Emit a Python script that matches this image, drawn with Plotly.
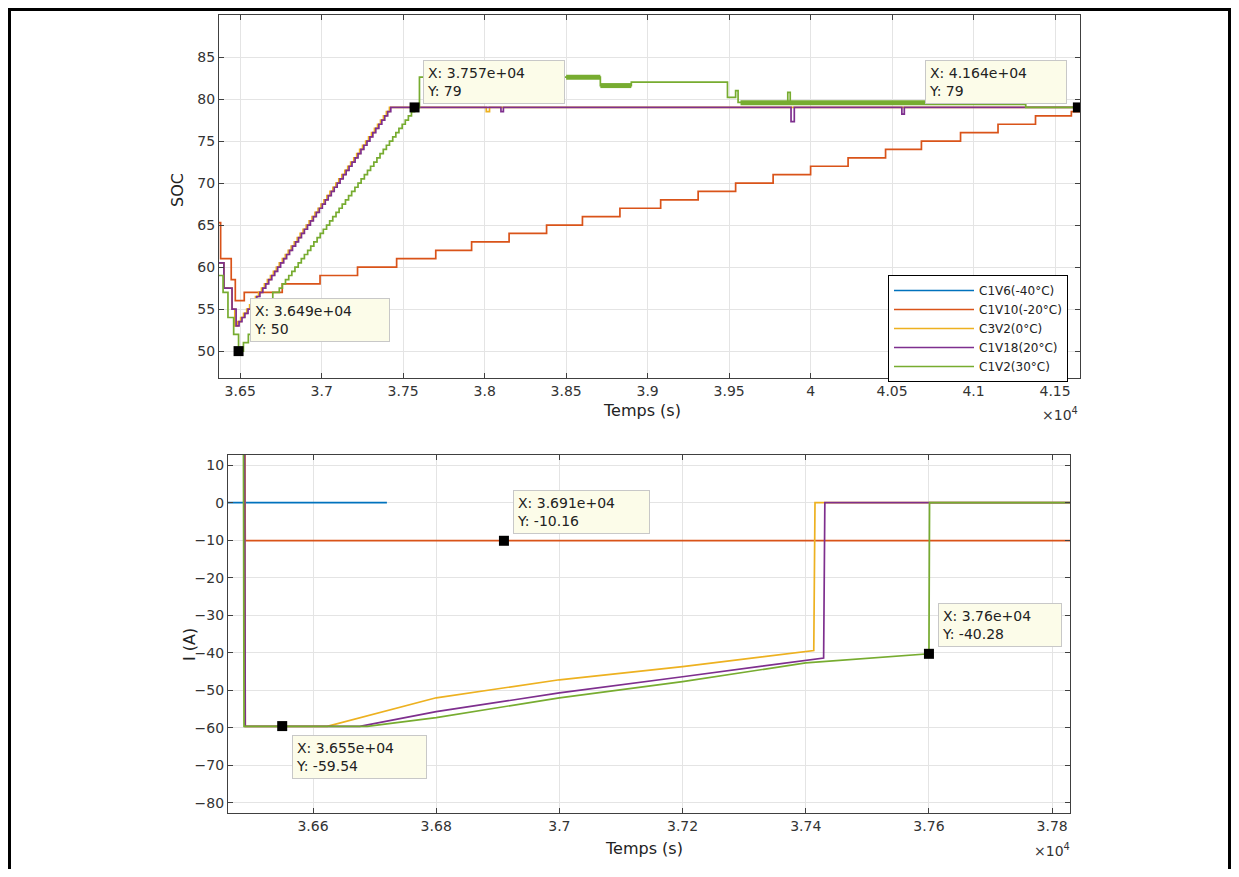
import plotly.graph_objects as go

# ---------------- data ----------------
series_names = ["C1V6(-40°C)", "C1V10(-20°C)", "C3V2(0°C)", "C1V18(20°C)", "C1V2(30°C)"]
series_colors = ["#0072BD", "#D95319", "#EDB120", "#7E2F8E", "#77AC30"]

# SOC (top panel), staircase values (hv)
soc_blue_t = [36370, 36400, 36430]
soc_blue_v = [60.5, 57.5, 57.5]

soc_orange_t = [36370, 36380, 36445, 36470, 36525, 36758, 36990, 37220, 37460, 37700, 37920,
                38150, 38380, 38600, 38830, 39080, 39310, 39540, 39770, 40000, 40230, 40460,
                40680, 40920, 41150, 41380, 41600, 41653]
soc_orange_v = [65.3, 61, 58.5, 56, 57, 58, 59, 60, 61, 62, 63,
                64, 65, 66, 67, 68, 69, 70, 71, 72, 73, 74,
                75, 76, 77, 78, 78.5, 78.5]

soc_yellow_t = [36370, 36400, 36450, 36467, 36485, 36503, 36521, 36540, 36558, 36576, 36594,
                36613, 36631, 36649, 36667, 36686, 36704, 36722, 36740, 36759, 36777, 36795,
                36813, 36832, 36850, 36868, 36886, 36905, 36923, 36941, 36959, 36978, 36996,
                37014, 37032, 37051, 37069, 37087, 37105, 37124, 37142, 37160, 37178, 37197,
                37215, 37233, 37251, 37270, 37288, 37306, 37324, 37343, 37361, 37379, 37397,
                37416, 38010, 38030, 41653]
soc_yellow_v = [60.5, 57.5, 55, 53, 53.5, 54, 54.5, 55, 55.5, 56, 56.5,
                57, 57.5, 58, 58.5, 59, 59.5, 60, 60.5, 61, 61.5, 62,
                62.5, 63, 63.5, 64, 64.5, 65, 65.5, 66, 66.5, 67, 67.5,
                68, 68.5, 69, 69.5, 70, 70.5, 71, 71.5, 72, 72.5, 73,
                73.5, 74, 74.5, 75, 75.5, 76, 76.5, 77, 77.5, 78, 78.5,
                79, 78.5, 79, 79]

soc_purple_t = [36370, 36400, 36450, 36475, 36493, 36511, 36529, 36548, 36566, 36584, 36602,
                36621, 36639, 36657, 36675, 36694, 36712, 36730, 36748, 36767, 36785, 36803,
                36821, 36840, 36858, 36876, 36894, 36913, 36931, 36949, 36967, 36986, 37004,
                37022, 37040, 37059, 37077, 37095, 37113, 37132, 37150, 37168, 37186, 37205,
                37223, 37241, 37259, 37278, 37296, 37314, 37332, 37351, 37369, 37387, 37405,
                37424, 38100, 38115, 39880, 39900, 40560, 40575, 41653]
soc_purple_v = [60.5, 57.5, 55, 53, 53.5, 54, 54.5, 55, 55.5, 56, 56.5,
                57, 57.5, 58, 58.5, 59, 59.5, 60, 60.5, 61, 61.5, 62,
                62.5, 63, 63.5, 64, 64.5, 65, 65.5, 66, 66.5, 67, 67.5,
                68, 68.5, 69, 69.5, 70, 70.5, 71, 71.5, 72, 72.5, 73,
                73.5, 74, 74.5, 75, 75.5, 76, 76.5, 77, 77.5, 78, 78.5,
                79, 78.5, 79, 77.3, 79, 78.2, 79, 79]

soc_green_t = [36370, 36395, 36425, 36460, 36490, 36520, 36550, 36580, 36610, 36640, 36670,
               36700, 36740, 36759, 36778, 36798, 36817, 36836, 36856, 36875, 36894, 36914,
               36933, 36952, 36972, 36991, 37010, 37030, 37049, 37068, 37088, 37107, 37126,
               37146, 37165, 37184, 37204, 37223, 37242, 37262, 37281, 37300, 37320, 37339,
               37358, 37378, 37397, 37416, 37436, 37455, 37474, 37494, 37513, 37532, 37551,
               37570, 37600, 38710, 38900, 39490, 39540, 39555, 39860, 39875, 41320, 41653]
soc_green_v = [59, 57, 54, 52, 50, 51, 52, 53, 54, 55, 56,
               57, 57.5, 58, 58.5, 59, 59.5, 60, 60.5, 61, 61.5, 62,
               62.5, 63, 63.5, 64, 64.5, 65, 65.5, 66, 66.5, 67, 67.5,
               68, 68.5, 69, 69.5, 70, 70.5, 71, 71.5, 72, 72.5, 73,
               73.5, 74, 74.5, 75, 75.5, 76, 76.5, 77, 77.5, 78, 78.5,
               79, 82.6, 81.6, 82.0, 80.2, 81, 79.6, 80.8, 79.6, 79, 79]
# noisy (thick) parts of the green SOC record
soc_green_noise_t = [38500, 38710, None, 38710, 38900, None, 39570, 41320]
soc_green_noise_v = [82.6, 82.6, None, 81.6, 81.6, None, 79.55, 79.55]

# Current (bottom panel)
cur_blue_t = [36462, 36720]
cur_blue_v = [0, 0]
cur_orange_t = [36462, 36489, 36490, 37829]
cur_orange_v = [20, 20, -10.1, -10.1]
cur_yellow_t = [36462, 36489, 36490, 36623, 36800, 37000, 37200, 37413, 37415, 37829]
cur_yellow_v = [20, 20, -59.6, -59.6, -52, -47.2, -43.7, -39.4, 0, 0]
cur_purple_t = [36462, 36489, 36490, 36676, 36800, 37000, 37200, 37429, 37431, 37829]
cur_purple_v = [20, 20, -59.6, -59.6, -55.7, -50.7, -46.4, -41.4, 0, 0]
cur_green_t = [36462, 36487, 36488, 36688, 36800, 37000, 37200, 37400, 37600, 37601, 37829]
cur_green_v = [20, 20, -59.6, -59.6, -57.3, -52, -47.7, -42.7, -40.28, 0, 0]

# data tips
tip_soc_x = [36490, 37570, 41640]
tip_soc_y = [50, 79, 79]
tip_soc_text = ["X: 3.649e+04<br>Y: 50", "X: 3.757e+04<br>Y: 79", "X: 4.164e+04<br>Y: 79"]
tip_cur_x = [36550, 36910, 37600]
tip_cur_y = [-59.54, -10.16, -40.28]
tip_cur_text = ["X: 3.655e+04<br>Y: -59.54", "X: 3.691e+04<br>Y: -10.16", "X: 3.76e+04<br>Y: -40.28"]

# ticks
soc_xtick_vals = [36500, 37000, 37500, 38000, 38500, 39000, 39500, 40000, 40500, 41000, 41500]
soc_xtick_text = ["3.65", "3.7", "3.75", "3.8", "3.85", "3.9", "3.95", "4", "4.05", "4.1", "4.15"]
soc_ytick_vals = [50, 55, 60, 65, 70, 75, 80, 85]
cur_xtick_vals = [36600, 36800, 37000, 37200, 37400, 37600, 37800]
cur_xtick_text = ["3.66", "3.68", "3.7", "3.72", "3.74", "3.76", "3.78"]
cur_ytick_vals = [-80, -70, -60, -50, -40, -30, -20, -10, 0, 10]

# ---------------- layout helpers ----------------
W, H, OFF = 1223, 861, 8
def fx(p):
    return (p - OFF) / W
def fy(p):
    return 1 - (p - OFF) / H

FONT = "DejaVu Sans"
LW = 1.7

fig = go.Figure()

soc_series = [(soc_blue_t, soc_blue_v), (soc_orange_t, soc_orange_v), (soc_yellow_t, soc_yellow_v),
              (soc_purple_t, soc_purple_v), (soc_green_t, soc_green_v)]
for (t, v), name, col in zip(soc_series, series_names, series_colors):
    fig.add_trace(go.Scatter(x=t, y=v, mode="lines", name=name, line=dict(color=col, width=LW, shape="hv"),
                             xaxis="x", yaxis="y", legendgroup=name))
fig.add_trace(go.Scatter(x=soc_green_noise_t, y=soc_green_noise_v, mode="lines", showlegend=False,
                         line=dict(color=series_colors[4], width=5), xaxis="x", yaxis="y",
                         legendgroup=series_names[4]))

cur_series = [(cur_blue_t, cur_blue_v), (cur_orange_t, cur_orange_v), (cur_yellow_t, cur_yellow_v),
              (cur_purple_t, cur_purple_v), (cur_green_t, cur_green_v)]
for (t, v), name, col in zip(cur_series, series_names, series_colors):
    fig.add_trace(go.Scatter(x=t, y=v, mode="lines", name=name, showlegend=False,
                             line=dict(color=col, width=LW), xaxis="x2", yaxis="y2", legendgroup=name))

fig.add_trace(go.Scatter(x=tip_soc_x, y=tip_soc_y, mode="markers", showlegend=False,
                         marker=dict(symbol="square", size=10, color="black"), xaxis="x", yaxis="y"))
fig.add_trace(go.Scatter(x=tip_cur_x, y=tip_cur_y, mode="markers", showlegend=False,
                         marker=dict(symbol="square", size=10, color="black"), xaxis="x2", yaxis="y2"))

axis_common = dict(showgrid=True, gridcolor="#e4e4e4", gridwidth=1, showline=True, linecolor="#404040",
                   linewidth=1.2, mirror="ticks", ticks="inside", ticklen=5, tickcolor="#404040",
                   zeroline=False, tickfont=dict(family=FONT, size=14, color="#333333"))

fig.update_layout(
    width=W, height=H, margin=dict(l=0, r=0, t=0, b=0),
    paper_bgcolor="white", plot_bgcolor="white",
    xaxis=dict(domain=[fx(219), fx(1080)], range=[36370, 41653], anchor="y",
               tickvals=soc_xtick_vals, ticktext=soc_xtick_text, **axis_common),
    yaxis=dict(domain=[fy(378), fy(15)], range=[46.8, 90], anchor="x",
               tickvals=soc_ytick_vals, **axis_common),
    xaxis2=dict(domain=[fx(228), fx(1070)], range=[36462, 37829], anchor="y2",
                tickvals=cur_xtick_vals, ticktext=cur_xtick_text, **axis_common),
    yaxis2=dict(domain=[fy(813), fy(455)], range=[-82.7, 12.7], anchor="x2",
                tickvals=cur_ytick_vals, **axis_common),
    legend=dict(x=fx(1068), y=fy(275), xanchor="right", yanchor="top", bgcolor="white",
                bordercolor="black", borderwidth=1, font=dict(family=FONT, size=12, color="#222"),
                itemwidth=80, tracegroupgap=0),
    showlegend=True,
)

# data-tip boxes: (left px, top px, width px) on the page
tip_boxes = [(250, 298, 140), (423, 60, 142), (925, 60, 142),
             (292, 735, 135), (513, 490, 137), (938, 603, 124)]
for (bx, by, bw), txt in zip(tip_boxes, tip_soc_text + tip_cur_text):
    fig.add_annotation(x=fx(bx), y=fy(by), xref="paper", yref="paper", xanchor="left", yanchor="top",
                       text=txt, showarrow=False, align="left", valign="middle",
                       width=bw - 8, height=36, bgcolor="#fcfce9",
                       bordercolor="#c8c8c8", borderwidth=1, borderpad=3,
                       font=dict(family=FONT, size=14, color="#222"))

# axis titles
titles = [("Temps (s)", 642, 411, 0), ("Temps (s)", 644, 848, 0), ("SOC", 177, 190, -90), ("I (A)", 189, 645, -90)]
for txt, px_, py_, ang in titles:
    fig.add_annotation(x=fx(px_), y=fy(py_), xref="paper", yref="paper", xanchor="center", yanchor="middle",
                       text=txt, showarrow=False, textangle=ang, font=dict(family=FONT, size=16, color="#222"))
for px_, py_ in [(1080, 414), (1072, 850)]:
    fig.add_annotation(x=fx(px_), y=fy(py_), xref="paper", yref="paper", xanchor="right", yanchor="middle",
                       text="×10<sup>4</sup>", showarrow=False, font=dict(family=FONT, size=14, color="#333"))

# page frame
fig.add_shape(type="rect", xref="paper", yref="paper", x0=fx(9.5), x1=fx(1229.5), y0=fy(900), y1=fy(9.5),
              line=dict(color="black", width=3), fillcolor="rgba(0,0,0,0)", layer="above")

fig.write_html("out.html")
